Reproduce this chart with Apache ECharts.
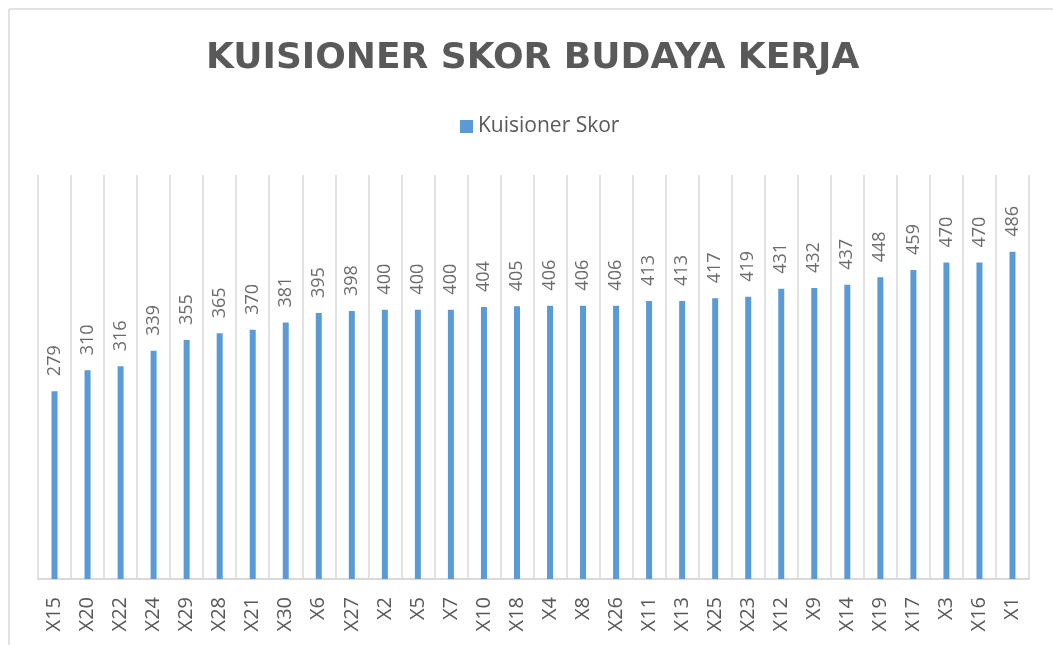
<!DOCTYPE html>
<html>
<head>
<meta charset="utf-8">
<script src="https://cdn.jsdelivr.net/npm/echarts@6/dist/echarts.min.js"></script>
<style>
  html, body { margin: 0; padding: 0; background: #fff; }
  #chart { width: 1053px; height: 645px; }
</style>
</head>
<body>
<div id="chart"></div>
<script>
const categories = ['X15', 'X20', 'X22', 'X24', 'X29', 'X28', 'X21', 'X30', 'X6', 'X27',
  'X2', 'X5', 'X7', 'X10', 'X18', 'X4', 'X8', 'X26', 'X11', 'X13',
  'X25', 'X23', 'X12', 'X9', 'X14', 'X19', 'X17', 'X3', 'X16', 'X1']
const skor = [279, 310, 316, 339, 355, 365, 370, 381, 395, 398,
  400, 400, 400, 404, 405, 406, 406, 406, 413, 413,
  417, 419, 431, 432, 437, 448, 459, 470, 470, 486]

const fontFamily = '"Open Sans", "Noto Sans", sans-serif'
const gridColor = '#d9d9d9'

const chart = echarts.init(document.getElementById('chart'), null, { renderer: 'canvas' })
chart.setOption({
  animation: false,
  backgroundColor: '#fff',
  title: {
    text: 'KUISIONER SKOR BUDAYA KERJA',
    left: 201,
    top: 36,
    textStyle: {
      color: '#595959',
      fontFamily: '"DejaVu Sans", sans-serif',
      fontWeight: 'bold',
      fontSize: 36
    }
  },
  legend: {
    data: ['Kuisioner Skor'],
    left: 455,
    top: 111,
    itemWidth: 13,
    itemHeight: 13,
    itemGap: 6,
    icon: 'rect',
    textStyle: {
      color: '#595959',
      fontFamily: fontFamily,
      fontSize: 21
    }
  },
  grid: {
    left: 38,
    right: 24,
    top: 175,
    bottom: 66
  },
  xAxis: {
    type: 'category',
    data: categories,
    axisTick: { show: false },
    axisLine: { lineStyle: { color: gridColor, width: 2 } },
    splitLine: { show: true, lineStyle: { color: gridColor, width: 1.5 } },
    axisLabel: {
      rotate: 90,
      margin: 18,
      interval: 0,
      color: '#595959',
      fontFamily: fontFamily,
      fontSize: 20
    }
  },
  yAxis: {
    type: 'value',
    min: 0,
    max: 600,
    show: false,
    splitLine: { show: false }
  },
  series: [{
    name: 'Kuisioner Skor',
    type: 'bar',
    data: skor,
    barWidth: 6,
    itemStyle: { color: '#5b9bd5' },
    label: {
      show: true,
      position: 'top',
      distance: 15,
      rotate: 90,
      align: 'left',
      verticalAlign: 'middle',
      color: '#6b6b6b',
      fontFamily: fontFamily,
      fontSize: 18
    }
  }],
  graphic: [
    { type: 'line', shape: { x1: 9, y1: 9, x2: 1053, y2: 9 }, style: { stroke: gridColor, lineWidth: 1.5 } },
    { type: 'line', shape: { x1: 9, y1: 9, x2: 9, y2: 645 }, style: { stroke: gridColor, lineWidth: 1.5 } }
  ]
})
</script>
</body>
</html>
